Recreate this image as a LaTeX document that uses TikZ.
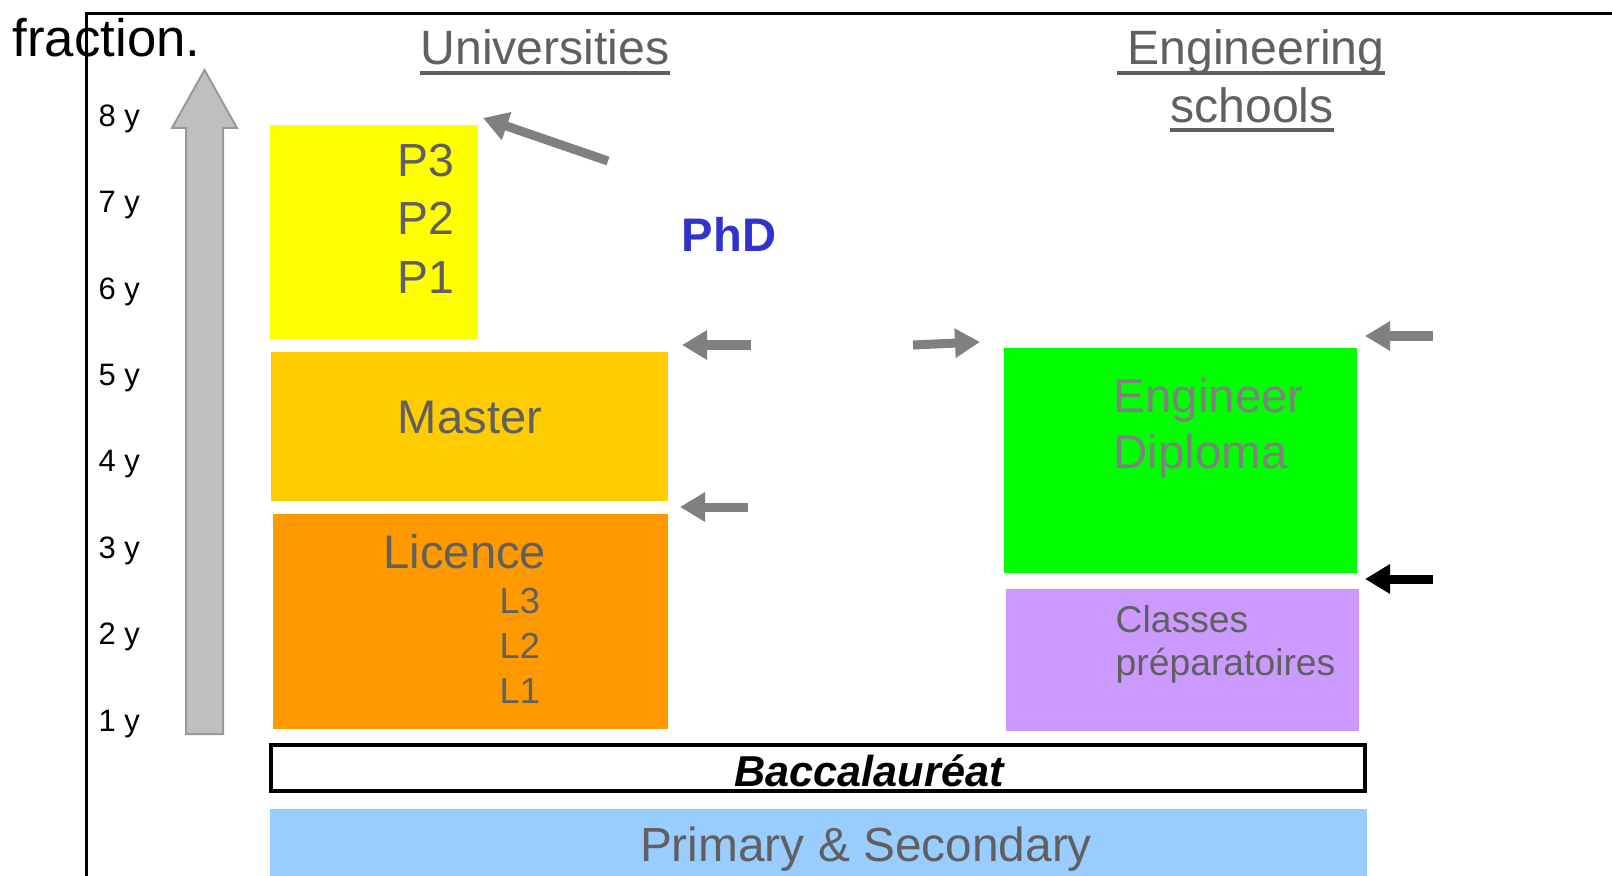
\documentclass[tikz,border=0pt]{standalone}
\usepackage{fontspec}
\setmainfont{Liberation Sans}
\usetikzlibrary{arrows.meta}

\definecolor{darktxt}{RGB}{96,96,96}
\definecolor{midtxt}{RGB}{128,128,128}
\definecolor{arrgray}{RGB}{128,128,128}
\definecolor{phdblue}{RGB}{51,51,204}
\definecolor{pyellow}{RGB}{255,255,0}
\definecolor{mgold}{RGB}{255,204,0}
\definecolor{lorange}{RGB}{255,153,0}
\definecolor{enggreen}{RGB}{0,255,0}
\definecolor{preplilac}{RGB}{204,153,255}
\definecolor{schoolblue}{RGB}{153,204,255}

\newcommand{\fsz}[1]{\fontsize{#1}{#1}\selectfont}

\begin{document}
\begin{tikzpicture}[x=0.01cm, y=-0.01cm]
    \tikzstyle{blk}=[inner sep=0pt, outer sep=0pt, anchor=north west]
    \tikzstyle{txt}=[inner sep=0pt, text=darktxt]
    \tikzstyle{yr}=[inner sep=0pt, anchor=base west, font=\fsz{8.8}]
    \tikzstyle{garrow}=[line width=0.09cm, draw=arrgray, -{Triangle[length=0.25cm, width=0.28cm]}]
    \useasboundingbox (0,0) rectangle (1612,876);
    % frame and the clipped line above it
    \node[inner sep=0pt, anchor=base west, font=\fsz{15}] (frac) at (12,57) {fraction.};
    \draw[line width=0.03cm] (86,876) -- (86,14) -- (1612,14);
    % years of study
    \foreach \i in {1,...,8} {\node[yr] (y\i) at (98,{731-86.4*(\i-1)}) {\i\ y};}
    \filldraw[fill=black!25, draw=black!40, line width=0.02cm] (186,734) -- (186,128) -- (172,128) -- (204.5,70) -- (237,128) -- (223,128) -- (223,734) -- cycle;
    % universities
    \node[blk, fill=pyellow, minimum width=2.08cm, minimum height=2.14cm] (phdbox) at (270,125) {};
    \node[blk, fill=mgold, minimum width=3.97cm, minimum height=1.49cm] (master) at (271,352) {};
    \node[blk, fill=lorange, minimum width=3.95cm, minimum height=2.15cm] (licence) at (273,514) {};
    \foreach \p/\y in {3/177,2/235,1/293} {\node[txt, anchor=base west, font=\fsz{13.2}] (p\p) at (397,\y) {P\p};}
    \node[txt, font=\fsz{13.4}] (mtxt) at (470,418) {Master};
    \node[txt, anchor=base west, font=\fsz{13.4}] (ltxt) at (383,568) {Licence};
    \foreach \l/\y in {3/613,2/658,1/703} {\node[txt, anchor=base west, font=\fsz{10.3}] (l\l) at (499,\y) {L\l};}
    \node[inner sep=0pt, font=\bfseries\fsz{13.4}, text=phdblue] (phd) at (729,234) {PhD};
    % engineering schools
    \node[blk, fill=enggreen, minimum width=3.53cm, minimum height=2.25cm] (eng) at (1004,348) {};
    \node[blk, fill=preplilac, minimum width=3.53cm, minimum height=1.42cm] (prep) at (1006,589) {};
    \node[txt, text=midtxt, anchor=base west, font=\fsz{13.5}] (etxt1) at (1113,412) {Engineer};
    \node[txt, text=midtxt, anchor=base west, font=\fsz{13.5}] (etxt2) at (1113,468) {Diploma};
    \node[txt, anchor=base west, font=\fsz{10.6}] (ctxt1) at (1115,632) {Classes};
    \node[txt, anchor=base west, font=\fsz{10.6}] (ctxt2) at (1115,675) {préparatoires};
    % bac and school
    \node[blk, draw=black, line width=0.04cm, minimum width=10.93cm, minimum height=0.46cm] (bac) at (271,745) {};
    \node[inner sep=0pt, anchor=base, font=\bfseries\itshape\fsz{12.3}] (bactxt) at (869,786) {Baccalauréat};
    \node[blk, fill=schoolblue, minimum width=10.96cm, minimum height=0.67cm] (prim) at (270,809) {};
    \node[txt, anchor=base, font=\fsz{13.6}] (primtxt) at (866,861) {Primary \& Secondary};
    % headings, underlined
    \node[txt, anchor=base, font=\fsz{13.7}] (uni) at (545,65) {Universities};
    \node[txt, anchor=base, font=\fsz{13.7}] (es1) at (1256,65) {Engineering};
    \node[txt, anchor=base, font=\fsz{13.7}] (es2) at (1252,123) {schools};
    \draw[darktxt, line width=0.035cm] ([yshift=-2.3pt]uni.base west) -- ([yshift=-2.3pt]uni.base east);
    \draw[darktxt, line width=0.035cm] ([xshift=-1mm, yshift=-2.3pt]es1.base west) -- ([yshift=-2.3pt]es1.base east);
    \draw[darktxt, line width=0.035cm] ([yshift=-2pt]es2.base west) -- ([yshift=-2pt]es2.base east);
    % block arrows
    \draw[garrow] (608,161) -- (483,118);
    \draw[garrow] (751,345) -- (682,345);
    \draw[garrow] (748,507) -- (680,507);
    \draw[garrow] (913,345) -- (980,342);
    \draw[garrow] (1433,336) -- (1365,336);
    \draw[garrow, draw=black] (1433,579) -- (1365,579);
\end{tikzpicture}
\end{document}
